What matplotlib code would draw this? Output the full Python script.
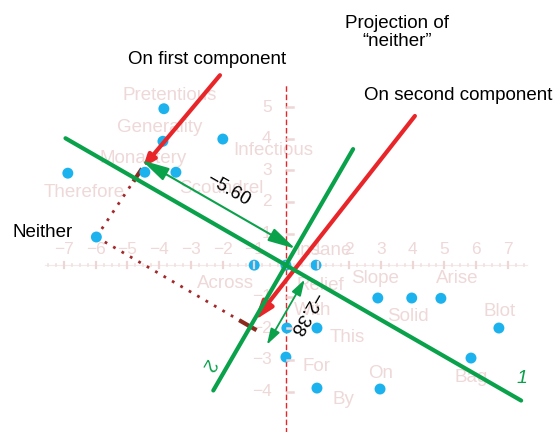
import numpy as np
import matplotlib.pyplot as plt
from matplotlib.patches import FancyArrowPatch

plt.rcParams['font.family'] = ['Liberation Sans', 'DejaVu Sans']

# words placed on the map: point position and where the word is written
words = ['Pretentious', 'Generality', 'Infectious', 'Monastery', 'Scoundrel',
         'Therefore', 'Across', 'Insane', 'Relief', 'With', 'This', 'For',
         'By', 'On', 'Slope', 'Solid', 'Arise', 'Blot', 'Bag']
word_x = [-3.85, -3.88, -1.99, -4.45, -3.47, -6.88, -1.0, 0.95, 0.0, 0.03,
          0.98, 0.0, 0.98, 2.97, 2.9, 3.97, 4.89, 6.72, 5.84]
word_y = [4.95, 3.92, 3.99, 2.94, 2.94, 2.91, 0.0, 0.0, 0.0, -1.99,
          -1.99, -2.91, -3.89, -3.92, -1.04, -1.04, -1.05, -1.99, -2.94]
label_x = [-3.67, -3.97, -0.41, -4.5, -2.05, -6.37, -1.92, 1.2, 1.1, 0.85,
           1.92, 0.95, 1.83, 3.0, 2.81, 3.85, 5.39, 6.75, 5.84]
label_y = [5.38, 4.37, 3.64, 3.39, 2.44, 2.31, -0.57, 0.47, -0.63, -1.42,
           -2.28, -3.2, -4.24, -3.42, -0.41, -1.61, -0.41, -1.46, -3.54]

neither_x, neither_y = -5.98, 0.89

# principal component direction and scores of "neither"
comp_angle = -30.0
score_1 = -5.60
score_2 = -2.38
comp1_range = [-8.03, 8.57]
comp2_range = [-4.58, 4.24]

# red projection arrows (start, tip)
red1_x, red1_y = [-2.08, -4.51], [6.01, 3.10]
red2_x, red2_y = [4.07, -0.98], [4.72, -1.74]
proj2 = (-1.2, -1.9)

xticks = [-7, -6, -5, -4, -3, -2, -1, 1, 2, 3, 4, 5, 6, 7]
yticks = [5, 4, 3, 2, 1, -1, -2, -3, -4]

pink = '#efd8d8'
green = '#0aa14b'
red = '#e8262a'
dark_red = '#a3282a'
blue = '#1cb2ee'

fig = plt.figure(figsize=(5.55, 4.32), dpi=100)
ax = fig.add_axes([0, 0, 1, 1])
ax.set_xlim(-9.02, 8.49)
ax.set_ylim(-5.28, 8.39)
ax.axis('off')

a = np.deg2rad(comp_angle)
u1 = np.array([np.cos(a), np.sin(a)])
u2 = np.array([-np.sin(a), np.cos(a)])

# axes: faint horizontal line, red dashed vertical line
ax.plot([-7.6, 7.6], [0, 0], color='#f5e8e8', lw=0.8, zorder=1)
ax.plot([0, 0], [-5.3, 5.73], color=red, lw=1, ls=(0, (4, 2)), zorder=1)
for t in np.arange(-7.5, 7.51, 0.25):
    if abs(t - round(t)) < 1e-6:
        ax.plot([t, t], [-0.1, 0.1], color='#efd6d6', lw=1.6, zorder=4)
    else:
        ax.plot([t, t], [-0.04, 0.04], color='#f2e0e0', lw=1.2, zorder=4)
for t in yticks:
    ax.plot([0.04, 0.22], [t, t], color='#efd6d6', lw=1.8, zorder=4)
for t in xticks:
    ax.text(t, 0.5, str(t).replace('-', '\u2212'), ha='center', va='center',
            fontsize=12.5, color=pink, zorder=0)
for t in yticks:
    ax.text(-0.45, t, str(t).replace('-', '\u2212'), ha='right', va='center',
            fontsize=12.5, color=pink, zorder=0)

# word labels
for w, lx, ly in zip(words, label_x, label_y):
    ax.text(lx, ly, w, ha='center', va='center', fontsize=13.5, color=pink, zorder=0)

ax.scatter(word_x + [neither_x], word_y + [neither_y], s=62, color=blue,
           edgecolor='none', zorder=3)

# the two components
c1 = np.outer(comp1_range, u1)
c2 = np.outer(comp2_range, u2)
ax.plot(c1[:, 0], c1[:, 1], color=green, lw=3, solid_capstyle='round', zorder=5)
ax.plot(c2[:, 0], c2[:, 1], color=green, lw=3, solid_capstyle='round', zorder=5)
ax.text(7.44, -3.58, '1', color=green, fontsize=14, style='italic',
        ha='center', va='center', zorder=6)
ax.text(-2.49, -3.16, '2', color=green, fontsize=14, rotation=-120,
        ha='center', va='center', zorder=6)

# dotted projections from "neither"
ax.plot([neither_x, red1_x[1]], [neither_y, red1_y[1]], color=dark_red, lw=2,
        ls=(0, (1, 2.5)), zorder=2)
ax.plot([neither_x, proj2[0]], [neither_y, proj2[1]], color=dark_red, lw=2,
        ls=(0, (1, 2.5)), zorder=2)
d1 = np.array([red1_x[1] - neither_x, red1_y[1] - neither_y])
d1 /= np.hypot(*d1)
p1 = np.array([red1_x[1], red1_y[1]]) - 0.3 * d1
ax.plot([p1[0] - 0.18 * d1[0], p1[0] + 0.18 * d1[0]],
        [p1[1] - 0.18 * d1[1], p1[1] + 0.18 * d1[1]], color='#8a2b1e', lw=3, zorder=2)
ax.plot([proj2[0] - 0.25 * u1[0], proj2[0] + 0.25 * u1[0]],
        [proj2[1] - 0.25 * u1[1], proj2[1] + 0.25 * u1[1]], color='#8a2b1e', lw=3, zorder=2)

# red arrows
ax.add_patch(FancyArrowPatch((red1_x[0], red1_y[0]), (red1_x[1], red1_y[1]),
                             arrowstyle='-|>,head_length=0.5,head_width=0.2',
                             mutation_scale=14, color=red, lw=3,
                             shrinkA=0, shrinkB=0, zorder=4))
ax.add_patch(FancyArrowPatch((red2_x[0], red2_y[0]), (red2_x[1], red2_y[1]),
                             arrowstyle='-|>,head_length=0.7,head_width=0.25',
                             mutation_scale=16, color=red, lw=3,
                             shrinkA=0, shrinkB=0, zorder=4))

# score arrows
off1 = 0.6 * u2
s1a, s1b = off1, off1 + score_1 * u1
ax.add_patch(FancyArrowPatch(tuple(s1a), tuple(s1b),
                             arrowstyle='<|-|>,head_length=1.2,head_width=0.3',
                             mutation_scale=14, color=green, lw=1.5,
                             shrinkA=0, shrinkB=0, zorder=5))
ax.text(-1.83, 2.37, '\u2212' + f'{abs(score_1):.2f}', rotation=comp_angle,
        ha='center', va='center', fontsize=13.5, color='black', zorder=7)

off2 = 0.74 * u1
s2a, s2b = off2 - 0.1 * u2, off2 + (score_2 - 0.1) * u2
ax.add_patch(FancyArrowPatch(tuple(s2a), tuple(s2b),
                             arrowstyle='<|-|>,head_length=0.8,head_width=0.25',
                             mutation_scale=12, color=green, lw=1.3,
                             shrinkA=0, shrinkB=0, zorder=5))
ax.text(0.6, -1.52, '\u2212' + f'{abs(score_2):.2f}', rotation=comp_angle - 90,
        ha='center', va='center', fontsize=13.5, color='black', zorder=7)

# annotations
ax.text(-2.49, 6.52, 'On first component', ha='center', va='center', fontsize=13.5)
ax.text(3.5, 7.37, 'Projection of\n\u201cneither\u201d', ha='center', va='center',
        fontsize=13.5, linespacing=1.1)
ax.text(5.43, 5.38, 'On second component', ha='center', va='center', fontsize=13.5)
ax.text(-8.64, 1.04, 'Neither', ha='left', va='center', fontsize=13.5)

fig.savefig('out.png', dpi=100)
